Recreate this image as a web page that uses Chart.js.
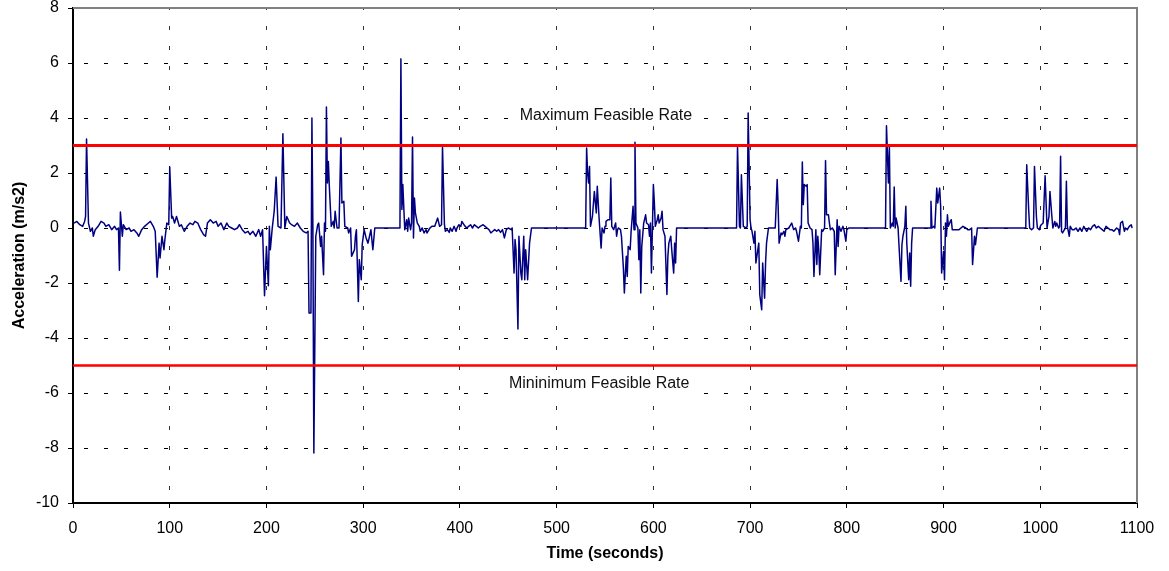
<!DOCTYPE html>
<html>
<head>
<meta charset="utf-8">
<script src="https://cdn.jsdelivr.net/npm/chart.js@4/dist/chart.umd.min.js"></script>
<style>
  html, body { margin: 0; padding: 0; background: #fff; }
  canvas { display: block; }
</style>
</head>
<body>
<canvas id="acc" width="1169" height="571"></canvas>
<script>
// time stamps (s) and acceleration (m/s2)
const times = [
  1, 4, 7, 10, 12, 13, 14, 16, 18, 20, 21, 23, 26, 29, 32, 34, 37, 40, 43, 45, 47, 48, 49, 51, 52, 55, 58, 60, 63, 66, 68, 71, 74, 78, 80, 83, 85, 87, 89, 90, 92, 94, 95, 97, 99,
  100, 102, 103, 105, 107, 110, 112, 115, 118, 121, 124, 126, 129, 132, 135, 137, 139, 142, 145, 148, 150, 153, 156, 159, 161, 164, 167, 170, 172, 175, 178, 181, 183, 186, 189, 192, 194, 196, 198,
  200, 202, 203, 204, 206, 208, 210, 212, 215, 217, 219, 221, 224, 226, 229, 232, 235, 238, 241, 243, 244, 246, 247, 248, 249, 251, 253, 254, 256, 257, 259, 260, 261, 262, 263, 264, 265, 267, 269, 270, 271, 273, 275, 277, 278, 280, 281, 284, 285, 287, 288, 291, 292, 293, 295, 296, 298, 299,
  301, 303, 305, 308, 310, 312, 338, 339, 340, 341, 342, 343, 345, 346, 347, 349, 350, 351, 352, 353, 354, 356, 358, 359, 361, 363, 365, 366, 369, 371, 374, 377, 379, 381, 382, 384, 385, 387, 389, 390, 392, 394, 396, 397, 399,
  401, 402, 405, 407, 409, 411, 413, 415, 417, 419, 421, 424, 426, 428, 430, 432, 434, 436, 438, 440, 442, 444, 446, 448, 450, 453, 454, 456, 457, 458, 460, 461, 463, 464, 466, 467, 468, 470, 472, 474,
  530, 531, 532, 533, 534, 535, 537, 539, 541, 542, 544, 546, 547, 549, 550, 551, 553, 555, 556, 557, 559, 561, 562, 563, 564, 566, 567, 569, 570, 572, 573, 574, 576, 577, 579, 580, 581, 582, 584, 585, 586, 587, 588, 590, 592, 593, 595, 596, 597, 598,
  600, 601, 602, 604, 605, 606, 608, 609, 610, 612, 614, 615, 616, 618, 619, 621, 622, 623, 624, 686, 687, 689, 690, 691, 693, 696, 697, 698,
  700, 701, 702, 704, 705, 706, 708, 709, 710, 712, 713, 715, 716, 717, 719, 726, 728, 729, 730, 732, 733, 735, 736, 737, 740, 741, 743, 745, 747, 748, 750, 752, 753, 754, 755, 756, 758, 759, 760, 762, 764, 765, 766, 768, 769, 770, 771, 772, 774, 775, 777, 778, 779, 781, 782, 783, 785, 787, 788, 790, 791, 792, 794, 796, 797, 799,
  800, 802, 840, 841, 843, 844, 845, 847, 848, 849, 850, 851, 853, 854, 856, 857, 858, 860, 861, 862, 864, 865, 866, 867, 868, 886, 887, 888, 890, 891, 893, 894, 896, 897, 898,
  900, 901, 902, 903, 904, 905, 907, 908, 909, 912, 916, 918, 920, 923, 925, 927, 929, 930, 932, 933, 935, 985, 986, 988, 989, 991, 993, 994, 996, 997, 999,
  1000, 1001, 1003, 1005, 1007, 1009, 1010, 1012, 1013, 1015, 1016, 1017, 1019, 1020, 1021, 1022, 1023, 1025, 1026, 1027, 1028, 1030, 1031, 1033, 1035, 1037, 1039, 1041, 1043, 1045, 1048, 1050, 1052, 1054, 1056, 1058, 1060, 1062, 1064, 1066, 1068, 1070, 1072, 1074, 1076, 1079, 1081, 1082, 1083, 1085, 1087, 1088, 1090, 1092, 1094, 1095
];
const accel = [
  0.18, 0.24, 0.12, 0.06, 0.24, 0.42, 3.24, 0.18, -0.12, 0, -0.3, -0.06, 0.06, 0.24, 0.18, 0.06, 0.12, -0.06, 0.06, -0.06, 0, -1.54, 0.58, -0.3, 0.12, -0.06, 0, -0.12, -0.06, -0.18, -0.3, -0.06, 0.06, 0.18, 0.24, 0.06, -0.12, -1.79, -0.55, -1.09, -0.3, -0.79, -0.42, 0.18, 0.12,
  2.22, 0.36, 0.42, 0.18, 0.42, 0.06, 0.12, -0.12, 0.06, 0.18, 0.12, 0.24, 0.18, -0.06, -0.24, -0.3, 0.18, 0.3, 0.18, 0.24, 0.06, 0.18, -0.06, 0.18, 0.06, 0, -0.06, 0, 0.12, -0.06, -0.18, -0.12, -0.24, -0.12, -0.3, -0.06, -0.3, -0.06, -2.46,
  -0.67, -2.1, 0.06, -0.79, 0, 0.61, 1.85, 0.06, 0, 3.43, 0, 0.42, 0.18, 0.12, 0.06, 0.18, 0, -0.12, -0.18, -0.12, -3.09, -3.09, 4.0, 0, -8.18, -0.3, 0.12, 0.18, -0.67, -0.3, -1.7, 0.18, -0.12, 4.4, 1.64, 2.42, 1.52, 0.06, 0.24, 0, 0.61, 0, 0, 3.27, 0.91, 0.97, 0.06, 0, -0.18, 0, -1.03, -0.79, -0.3, -0.06, -2.67, -1.15, -1.88, -0.6,
  -0.06, -0.36, -0.55, -0.06, -0.79, 0, 0, 6.15, 0.67, 1.58, 0.73, -0.06, 0.3, -0.12, 0.36, -0.06, 0.18, 3.31, -0.36, 1.09, 0.55, 0.18, 0.06, -0.12, 0, -0.18, -0.06, -0.18, 0, 0.06, 0.06, 0.36, 0.06, 0.12, 2.97, 0.12, -0.12, -0.06, -0.16, 0, -0.12, 0.06, -0.12, 0, 0.12,
  0.06, 0.24, 0.08, 0, 0.06, 0.12, 0, 0.12, 0.06, 0, 0.06, 0.12, 0.06, 0, -0.06, -0.18, -0.12, -0.06, -0.12, -0.06, -0.16, -0.06, -0.36, -0.06, 0, -0.06, 0, -1.64, -0.42, -0.79, -3.67, -0.3, -1.64, -1.88, -0.3, -1.88, -0.79, -1.88, -0.55, 0,
  0, 2.91, 2.0, 1.64, 2.24, 0.06, 0.42, 1.33, 0.55, 1.52, 0.3, -0.73, 0, -0.18, 0.06, 0.24, 0.3, 0.3, 1.82, 0.06, -0.06, 0.18, -0.3, -0.06, 0, -0.06, -0.3, -1.45, -2.36, -1.03, -1.76, -0.67, -0.79, -0.12, 0.79, -0.06, 3.12, 0.18, 0, -1.15, -0.06, -2.36, -0.67, 0.18, 0.48, 0.18, 0.12, -0.3, 0.18, -1.64,
  1.58, 0.94, 0.06, 0.3, 0.48, 0.18, 0.36, 0.61, -0.06, -0.3, -2.42, -1.03, -0.55, -0.3, -0.79, -1.64, -0.55, -1.27, 0, 0, 2.97, 0.06, 0, 1.94, 0.06, 0, 0.06, 4.18,
  0.3, 0, -0.12, -0.55, -0.12, -1.27, -0.79, -0.55, -2.42, -2.97, -1.27, -2.55, -1.27, -0.55, 0, 0, 1.76, 0.79, -0.55, -0.18, -0.24, -0.12, -0.3, -0.06, 0, 0.06, 0.18, -0.06, 0, -0.12, -0.48, 0.06, 0, 2.4, 0.85, 1.58, 1.52, 1.58, 0.18, 0, -0.06, -0.55, -1.76, -0.06, -1.33, -0.3, -0.79, -1.7, -0.06, -0.12, 0, 2.45, 0.48, 0.48, 0.18, -0.06, 0, -0.12, -1.7, 0.3, -0.67, 0.06, -0.12, 0.06, -0.06, -0.48,
  -0.06, 0, 0, 3.72, 1.64, 2.97, 0, 0.18, 0.06, 1.49, 0, 0.36, 0, -0.67, -1.94, -0.61, -0.3, 0.06, 0.79, -0.55, -1.88, -0.91, -2.12, -0.55, 0, 0, 0.97, 0, 0.06, 0, 1.45, 0.91, 1.45, 0.79, -1.64,
  -0.85, -1.88, 0.18, -0.3, 0.48, 0.06, 0.24, 0.3, -0.06, -0.06, -0.06, 0, 0.06, 0, -0.06, -0.06, 0, -1.33, -0.3, -0.61, 0, 0, 2.3, 0.67, 0, -0.06, 0, 2.24, 0.42, 0, -0.06,
  0.06, 0.12, 0.18, 1.9, 0, 0.42, 1.33, 0.42, 0, 0.24, 0.06, 0.18, 0, 0.06, 2.61, -0.12, -0.18, -0.06, 0, 1.7, 0.06, -0.3, 0.06, -0.06, -0.06, 0, -0.12, 0, -0.12, 0.06, -0.12, 0, -0.06, 0.06, 0.12, 0, 0.06, 0, -0.06, -0.12, 0.06, 0, -0.06, -0.06, -0.12, 0, -0.06, -0.24, 0.18, 0.24, -0.12, 0, -0.06, 0.06, 0.12, 0
];
const maxRate = 3;
const minRate = -5;
const rateSpan = [0, 1100];
const xTicks = [0, 100, 200, 300, 400, 500, 600, 700, 800, 900, 1000, 1100];
const yTicks = [-10, -8, -6, -4, -2, 0, 2, 4, 6, 8];

const FONT = "'Liberation Sans', Arial, Helvetica, sans-serif";

// captions: text, centre time, centre value
const captions = [
  ['Maximum Feasible Rate', 551, 4.1],
  ['Mininimum Feasible Rate', 544, -5.66]
];

// plot frame on the top/right, white caption boxes, caption text
const framePlugin = {
  id: 'frame',
  beforeDatasetsDraw(chart) {
    const {ctx, chartArea: a} = chart;
    const xs = chart.scales.x, ys = chart.scales.y;
    ctx.save();
    ctx.strokeStyle = '#808080';
    ctx.lineWidth = 2;
    ctx.beginPath();
    ctx.moveTo(a.left, a.top);
    ctx.lineTo(a.right, a.top);
    ctx.lineTo(a.right, a.bottom);
    ctx.stroke();
    ctx.font = '16px ' + FONT;
    ctx.fillStyle = '#fff';
    captions.forEach(c => {
      const w = ctx.measureText(c[0]).width + 14;
      const cx = xs.getPixelForValue(c[1]), cy = ys.getPixelForValue(c[2]);
      ctx.fillRect(cx - w / 2, cy - 11, w, 22);
    });
    ctx.restore();
  },
  afterDatasetsDraw(chart) {
    const {ctx} = chart;
    const xs = chart.scales.x, ys = chart.scales.y;
    ctx.save();
    ctx.font = '16px ' + FONT;
    ctx.fillStyle = '#111';
    ctx.textAlign = 'center';
    ctx.textBaseline = 'middle';
    captions.forEach(c => {
      ctx.fillText(c[0], xs.getPixelForValue(c[1]), ys.getPixelForValue(c[2]));
    });
    ctx.restore();
  }
};

const chrt = document.getElementById('acc').getContext('2d');
const accChart = new Chart(chrt, {
  type: 'line',
  data: {
    datasets: [
      {
        label: 'Maximum Feasible Rate',
        data: rateSpan.map(x => ({x: x, y: maxRate})),
        borderColor: '#ff0000',
        borderWidth: 3,
        pointRadius: 0,
        order: 0
      },
      {
        label: 'Minimum Feasible Rate',
        data: rateSpan.map(x => ({x: x, y: minRate})),
        borderColor: '#ff0000',
        borderWidth: 2.5,
        pointRadius: 0,
        order: 0
      },
      {
        label: 'Acceleration',
        data: times.map((t, i) => ({x: t, y: accel[i]})),
        borderColor: '#000080',
        borderWidth: 1.5,
        borderJoinStyle: 'round',
        pointRadius: 0,
        tension: 0,
        fill: false,
        order: 1
      }
    ]
  },
  options: {
    responsive: false,
    animation: false,
    layout: { padding: { top: 8, right: 32, left: 0, bottom: 0 } },
    plugins: {
      legend: { display: false },
      tooltip: { enabled: false }
    },
    scales: {
      x: {
        type: 'linear',
        min: 0,
        max: 1100,
        afterBuildTicks: s => { s.ticks = xTicks.map(v => ({value: v})); },
        afterFit: s => { s.height = 68; },
        ticks: { color: '#000', font: { family: FONT, size: 16 }, padding: 11, maxRotation: 0, callback: v => String(v) },
        grid: { color: '#333', lineWidth: 1, tickLength: 5, tickColor: '#000', tickBorderDash: [] },
        border: { display: true, color: '#000', width: 2, dash: [4, 16], dashOffset: 2 },
        title: {
          display: true,
          text: 'Time (seconds)',
          color: '#000',
          font: { family: FONT, size: 16, weight: 'bold' },
          padding: { top: 0, bottom: 8 }
        }
      },
      y: {
        min: -10,
        max: 8,
        afterBuildTicks: s => { s.ticks = yTicks.map(v => ({value: v})); },
        afterFit: s => { s.width = 73; s.paddingTop = 0; s.paddingBottom = 0; },
        ticks: { color: '#000', font: { family: FONT, size: 16 }, padding: 9, callback: v => String(v) },
        grid: { color: '#000', lineWidth: 1, tickLength: 5, tickColor: '#000', tickBorderDash: [] },
        border: { display: true, color: '#000', width: 2, dash: [4, 16], dashOffset: 10 },
        title: {
          display: true,
          text: 'Acceleration (m/s2)',
          color: '#000',
          font: { family: FONT, size: 16, weight: 'bold' },
          padding: { top: 10, bottom: 0 }
        }
      }
    }
  },
  plugins: [framePlugin]
});
</script>
</body>
</html>
